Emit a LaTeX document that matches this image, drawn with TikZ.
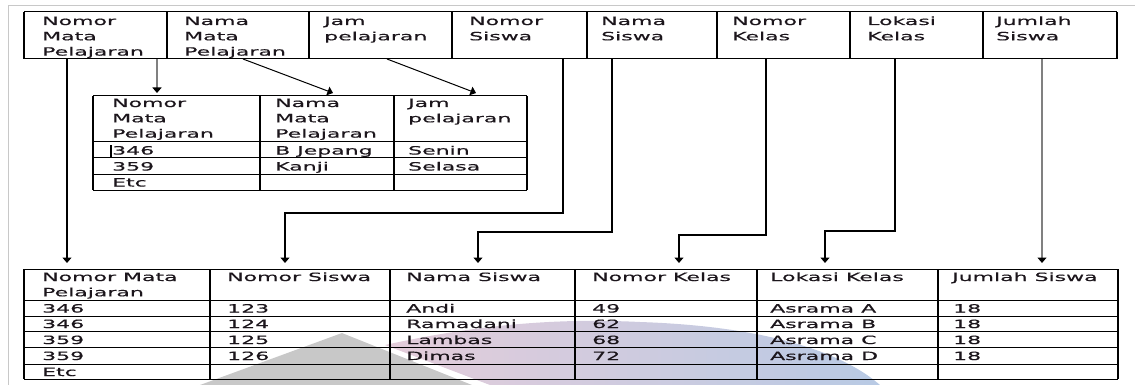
\documentclass[tikz,border=0pt]{standalone}
\usepackage{fontspec}
\setmainfont{DejaVu Sans}[FakeStretch=1.93,FakeBold=0.5]
\usetikzlibrary{arrows.meta}
\definecolor{framegray}{RGB}{200,200,200}
\definecolor{wmgray}{RGB}{200,200,200}
\definecolor{wmpink}{RGB}{228,204,218}
\definecolor{wmblue}{RGB}{184,202,228}
\definecolor{inkc}{RGB}{28,22,28}
% multi-line cells are anchored on the baseline of their last line
\tikzset{
  cell/.style={anchor=base west, align=left, inner sep=0pt, text=inkc,
    font=\fontsize{11.4}{15.3}\selectfont},
  hline/.style={draw=black, line width=1pt},
  vline/.style={draw=black, line width=1.8pt},
  link/.style={draw=black, line width=1.3pt, -{Triangle[width=9pt,length=5.5pt]}},
  glink/.style={draw=gray, line width=2pt, -{Triangle[width=9pt,length=5.5pt,color=black]}},
}
\begin{document}
\begin{tikzpicture}[x=1pt,y=-1pt]
\useasboundingbox (0,0) rectangle (1135,385);

% faint logo shapes in the background
\fill[wmgray] (342,333) -- (472,385) -- (200,385) -- cycle;
\shade[left color=wmpink, right color=wmblue]
  (385,345) .. controls (480,324) and (560,318) .. (640,322)
  .. controls (760,326) and (840,350) .. (880,385) -- (490,385) -- cycle;

% page frame
\draw[framegray, line width=1pt] (8,385) -- (8,6) -- (1135,6);

% ---------- top table: all attributes ----------
\foreach \y in {12,59} \draw[hline] (24,\y) -- (1117,\y);
\foreach \x in {24,167,309,452,587,717,850,983,1117} \draw[vline] (\x,12) -- (\x,59);

\node[cell] (t1) at (42,55.6)  {Nomor\\Mata\\Pelajaran};
\node[cell] (t2) at (184,55.6) {Nama\\Mata\\Pelajaran};
\node[cell] (t3) at (324,40.3) {Jam\\pelajaran};
\node[cell] (t4) at (469,40.3) {Nomor\\Siswa};
\node[cell] (t5) at (601,40.3) {Nama\\Siswa};
\node[cell] (t6) at (732,40.3) {Nomor\\Kelas};
\node[cell] (t7) at (867,40.3) {Lokasi\\Kelas};
\node[cell] (t8) at (996,40.3) {Jumlah\\Siswa};

% ---------- middle table: subjects ----------
\foreach \y in {96,142,158,174,190} \draw[hline] (93,\y) -- (527,\y);
\foreach \x in {93,260,394,527} \draw[vline] (\x,96) -- (\x,190);

\node[cell] (m1) at (112,137.6) {Nomor\\Mata\\Pelajaran};
\node[cell] (m2) at (275,137.6) {Nama\\Mata\\Pelajaran};
\node[cell] (m3) at (408,122.3) {Jam\\pelajaran};
\fill[black] (109.5,145) rectangle (111.8,157);
\node[cell] (m11) at (112,154.5) {346};
\node[cell] (m12) at (275,154.5) {B Jepang};
\node[cell] (m13) at (408,154.5) {Senin};
\node[cell] (m21) at (112,170.5) {359};
\node[cell] (m22) at (275,170.5) {Kanji};
\node[cell] (m23) at (408,170.5) {Selasa};
\node[cell] (m31) at (112,186.5) {Etc};

% ---------- bottom table: students ----------
\foreach \y in {269,300,316,331,347,364,379} \draw[hline] (24,\y) -- (1118,\y);
\foreach \x in {24,210,390,575,757,938,1118} \draw[vline] (\x,269) -- (\x,379);

\node[cell] (b01) at (42,296.3) {Nomor Mata\\Pelajaran};
\node[cell] (b02) at (227,281) {Nomor Siswa};
\node[cell] (b03) at (406,281) {Nama Siswa};
\node[cell] (b04) at (592,281) {Nomor Kelas};
\node[cell] (b05) at (770,281) {Lokasi Kelas};
\node[cell] (b06) at (952,281) {Jumlah Siswa};

\node[cell] (b11) at (42,312.5)  {346};
\node[cell] (b12) at (227,312.5) {123};
\node[cell] (b13) at (406,312.5) {Andi};
\node[cell] (b14) at (592,312.5) {49};
\node[cell] (b15) at (770,312.5) {Asrama A};
\node[cell] (b16) at (953,312.5) {18};

\node[cell] (b21) at (42,328)  {346};
\node[cell] (b22) at (227,328) {124};
\node[cell] (b23) at (406,328) {Ramadani};
\node[cell] (b24) at (592,328) {62};
\node[cell] (b25) at (770,328) {Asrama B};
\node[cell] (b26) at (953,328) {18};

\node[cell] (b31) at (42,344)  {359};
\node[cell] (b32) at (227,344) {125};
\node[cell] (b33) at (406,344) {Lambas};
\node[cell] (b34) at (592,344) {68};
\node[cell] (b35) at (770,344) {Asrama C};
\node[cell] (b36) at (953,344) {18};

\node[cell] (b41) at (42,360)  {359};
\node[cell] (b42) at (227,360) {126};
\node[cell] (b43) at (406,360) {Dimas};
\node[cell] (b44) at (592,360) {72};
\node[cell] (b45) at (770,360) {Asrama D};
\node[cell] (b46) at (953,360) {18};

\node[cell] (b51) at (42,376) {Etc};

% ---------- connector end points ----------
\coordinate (s1) at (67,59);    \coordinate (e1) at (67,263);
\coordinate (s2) at (157,59);   \coordinate (e2) at (157,93);
\coordinate (s3) at (243,59);   \coordinate (e3) at (333,93);
\coordinate (s4) at (387,59);   \coordinate (e4) at (476,93);
\coordinate (s5) at (563,59);   \coordinate (e5) at (285,263);
\coordinate (s6) at (612,59);   \coordinate (e6) at (478,263);
\coordinate (s7) at (766,59);   \coordinate (e7) at (679,263);
\coordinate (s8) at (895,59);   \coordinate (e8) at (825,263);
\coordinate (s9) at (1042,59);  \coordinate (e9) at (1042,263);

% ---------- connectors ----------
\draw[link]  (s1) -- (e1);
\draw[glink] (s2) -- (e2);
\draw[link, line width=1pt] (s3) -- (e3);
\draw[link, line width=1pt] (s4) -- (e4);
\draw[link]  (s5) |- (285,213) -- (e5);
\draw[link]  (s6) |- (478,232) -- (e6);
\draw[link]  (s7) |- (679,235) -- (e7);
\draw[link]  (s8) |- (825,231) -- (e8);
\draw[glink] (s9) -- (e9);
\end{tikzpicture}
\end{document}
